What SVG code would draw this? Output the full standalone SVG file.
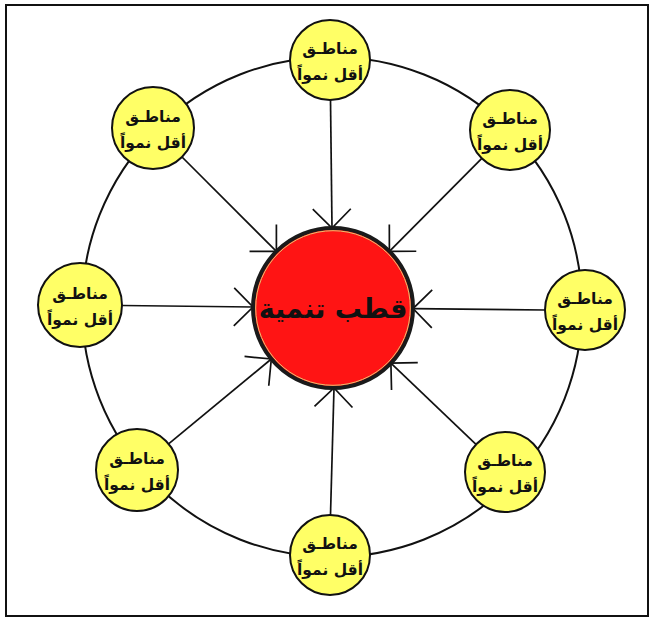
<svg xmlns="http://www.w3.org/2000/svg" width="654" height="622" viewBox="0 0 654 622">
<defs>
<style>
.frame{fill:#fff;stroke:#111;stroke-width:2}
.ring{fill:none;stroke:#111;stroke-width:2}
.node{fill:#ffff66;stroke:#111;stroke-width:2}
.conn{stroke:#111;stroke-width:1.7;fill:none}
.t{font-family:"DejaVu Sans",sans-serif;font-weight:bold;font-size:15.5px;fill:#111;text-anchor:middle}
.ct{font-family:"DejaVu Sans",sans-serif;font-weight:bold;font-size:27px;fill:#111;text-anchor:middle}
</style>
<marker id="arr" markerUnits="userSpaceOnUse" viewBox="-25 -25 30 50" markerWidth="30" markerHeight="50" refX="0" refY="0" orient="auto" overflow="visible">
<path d="M-19,-19 L0,0 L-19,19" fill="none" stroke="#111" stroke-width="1.7"/>
</marker>
</defs>
<rect class="frame" x="6" y="5" width="642" height="611"/>
<circle class="ring" cx="332" cy="307" r="250"/>
<g id="connectors">
<line class="conn" x1="330.5" y1="100" x2="332" y2="228" marker-end="url(#arr)"/>
<line class="conn" x1="182" y1="157" x2="276.4" y2="251.4" marker-end="url(#arr)"/>
<line class="conn" x1="481.8" y1="158.4" x2="389.4" y2="251.3" marker-end="url(#arr)"/>
<line class="conn" x1="122" y1="305.5" x2="253" y2="307" marker-end="url(#arr)"/>
<line class="conn" x1="545" y1="310" x2="413" y2="308.6" marker-end="url(#arr)"/>
<line class="conn" x1="168.6" y1="443.9" x2="271.3" y2="359" marker-end="url(#arr)"/>
<line class="conn" x1="476" y1="444.4" x2="390.9" y2="363.2" marker-end="url(#arr)"/>
<line class="conn" x1="330.5" y1="515" x2="334" y2="388" marker-end="url(#arr)"/>
</g>
<g id="center">
<circle cx="333" cy="308" r="80" fill="#ff1414" stroke="#1a1a1a" stroke-width="4"/>
<circle cx="333" cy="308" r="77.3" fill="none" stroke="#e8c070" stroke-width="1"/>
<text class="ct" x="333" y="318">قطب تنمية</text>
</g>
<g id="n-top"><circle class="node" cx="330" cy="60" r="40"/><text class="t" x="330" y="54">مناطـق</text><text class="t" x="330" y="80">أقل نمواً</text></g>
<g id="n-topleft"><circle class="node" cx="153" cy="128" r="41"/><text class="t" x="153" y="122">مناطـق</text><text class="t" x="153" y="148">أقل نمواً</text></g>
<g id="n-topright"><circle class="node" cx="510" cy="130" r="40"/><text class="t" x="510" y="124">مناطـق</text><text class="t" x="510" y="150">أقل نمواً</text></g>
<g id="n-left"><circle class="node" cx="80" cy="305" r="42"/><text class="t" x="80" y="299">مناطـق</text><text class="t" x="80" y="325">أقل نمواً</text></g>
<g id="n-right"><circle class="node" cx="585" cy="310" r="40"/><text class="t" x="585" y="304">مناطـق</text><text class="t" x="585" y="330">أقل نمواً</text></g>
<g id="n-bottomleft"><circle class="node" cx="137" cy="470" r="41"/><text class="t" x="137" y="464">مناطـق</text><text class="t" x="137" y="490">أقل نمواً</text></g>
<g id="n-bottomright"><circle class="node" cx="505" cy="472" r="40"/><text class="t" x="505" y="466">مناطـق</text><text class="t" x="505" y="492">أقل نمواً</text></g>
<g id="n-bottom"><circle class="node" cx="330" cy="555" r="40"/><text class="t" x="330" y="549">مناطـق</text><text class="t" x="330" y="575">أقل نمواً</text></g>
</svg>
